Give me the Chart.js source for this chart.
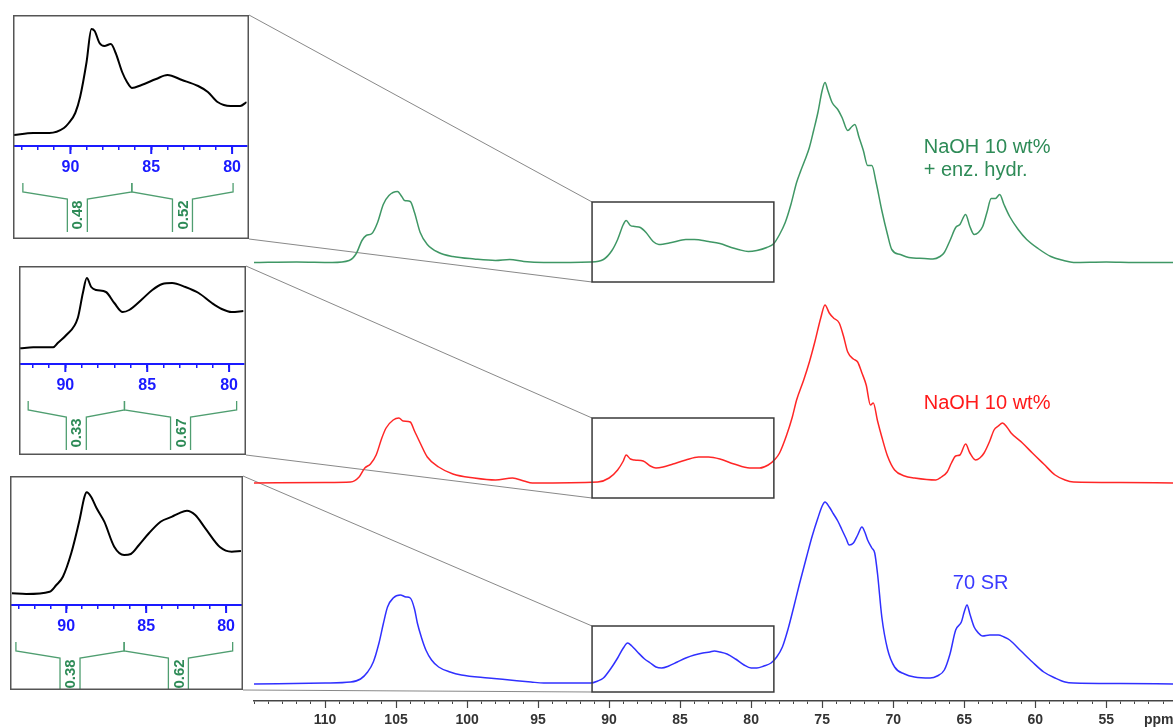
<!DOCTYPE html>
<html>
<head>
<meta charset="utf-8">
<title>13C CP/MAS spectra</title>
<script src="https://cdn.jsdelivr.net/npm/chart.js@4"></script>
<style>
  body { margin: 0; background: #fff; }
  #wrap { position: relative; width: 1173px; height: 727px; overflow: hidden; }
  #wrap canvas { position: absolute; }
</style>
</head>
<body>
<div id="wrap">
  <canvas id="main" width="1173" height="727" style="left:0;top:0"></canvas>
</div>
<script>
// ---- data ----
const seriesNames = [['NaOH 10 wt%', '+ enz. hydr.'], ['NaOH 10 wt%'], ['70 SR']];

// main spectra: chemical shift (ppm) and intensity above each trace's own baseline
const enzPpm = [115, 112, 109.5, 108.3, 107.8, 107.4, 107.1, 106.7, 106.3, 105.9, 105.5, 104.9, 104.6, 104.4, 104.0, 103.7, 103.3, 102.8, 102.0, 101, 99.5, 98, 97.0, 96, 94.6, 91.3, 90.4, 89.8, 89.4, 89.0, 88.8, 88.5, 88.2, 87.8, 87.4, 86.9, 86.5, 85.6, 84.6, 84.0, 83.0, 82.2, 81.4, 80.9, 80.2, 79.6, 78.9, 78.4, 78.0, 77.6, 77.2, 76.8, 76.5, 76.2, 75.9, 75.6, 75.3, 75.0, 74.8, 74.6, 74.3, 73.9, 73.6, 73.2, 72.9, 72.7, 72.4, 72.1, 71.8, 71.5, 71.2, 70.8, 70.4, 70.1, 69.5, 68.9, 67.8, 67.2, 66.7, 66.4, 66.0, 65.6, 65.3, 64.9, 64.6, 64.3, 64.0, 63.7, 63.4, 63.1, 62.8, 62.5, 62.2, 61.8, 61.2, 60.6, 59.8, 58.9, 58.0, 57.3, 55, 53, 50.3];
const enzInt = [0, 0.5, 0, 2, 9, 22, 27, 29, 40, 58, 67, 71, 66, 62, 61, 50, 30, 18, 10, 6, 3.5, 2, 3, 1, 0, 0.5, 3, 12, 23, 38, 42, 37, 36, 35, 30, 21, 18, 20, 23, 23, 21, 19, 15, 13, 11, 12, 15, 19, 28, 40, 58, 80, 92, 103, 115, 132, 150, 172, 180, 172, 160, 153, 145, 132, 136, 138, 125, 112, 97, 97, 80, 52, 28, 13, 8, 5, 4, 3.5, 6, 10, 22, 35, 38, 48, 36, 28, 30, 36, 50, 64, 64, 68, 58, 46, 33, 23, 14, 6, 2, 0, 0.5, 0, 0];

const naohPpm = [115, 110, 108.2, 107.6, 107.2, 106.8, 106.4, 106.0, 105.7, 105.2, 104.8, 104.5, 104.0, 103.7, 103.3, 102.8, 102.0, 101, 99.5, 98, 96.8, 96, 95.4, 90.8, 90.0, 89.4, 89.0, 88.8, 88.5, 88.2, 87.6, 87.1, 86.7, 86.2, 85.5, 84.6, 83.7, 83.0, 82.2, 81.2, 80.1, 79.4, 78.8, 78.3, 78.0, 77.5, 77.1, 76.8, 76.3, 75.9, 75.5, 75.1, 74.8, 74.5, 74.2, 73.8, 73.5, 73.2, 72.8, 72.5, 72.2, 71.9, 71.6, 71.4, 71.1, 70.8, 70.4, 69.9, 69.2, 68.5, 67.0, 66.6, 66.2, 65.9, 65.6, 65.3, 64.9, 64.6, 64.2, 63.9, 63.6, 63.2, 62.9, 62.6, 62.3, 62.0, 61.7, 60.9, 60.2, 59.4, 58.6, 57.9, 57.3, 54, 50.3];
const naohInt = [0, 0.5, 1, 6, 15, 19, 28, 45, 55, 63, 65, 62, 61, 52, 40, 26, 16, 9, 5, 3, 5, 2, 0, 1, 5, 13, 22, 28, 24, 23, 22, 17, 15, 16, 19, 23, 26, 26, 24, 19, 15, 15, 18, 24, 30, 48, 66, 83, 103, 121, 142, 165, 178, 170, 165, 160, 147, 131, 124, 121, 110, 98, 78, 80, 62, 46, 27, 13, 7, 5, 3, 6, 11, 20, 27, 28, 39, 30, 23, 25, 30, 42, 53, 57, 60, 56, 50, 40, 30, 19, 8, 3, 1, 0.5, 0];

const srPpm = [115, 110, 108.2, 107.5, 107.0, 106.6, 106.2, 105.9, 105.6, 105.2, 104.7, 104.3, 104.0, 103.7, 103.5, 103.2, 102.9, 102.5, 102.0, 101.2, 100.4, 98.5, 97.0, 95.5, 94.6, 91.3, 90.8, 90.4, 89.9, 89.4, 89.0, 88.7, 88.4, 88.0, 87.5, 87.1, 86.7, 86.3, 85.8, 85.2, 84.6, 84.0, 83.4, 82.9, 82.6, 82.2, 81.7, 81.1, 80.5, 80.0, 79.6, 79.1, 78.6, 78.2, 77.8, 77.4, 77.0, 76.6, 76.1, 75.7, 75.3, 75.0, 74.8, 74.5, 74.2, 73.9, 73.6, 73.3, 73.1, 72.8, 72.5, 72.2, 72.0, 71.8, 71.5, 71.3, 71.1, 70.8, 70.4, 69.9, 69.2, 68.5, 67.4, 66.9, 66.4, 66.0, 65.6, 65.2, 65.0, 64.8, 64.6, 64.3, 64.0, 63.7, 63.2, 62.6, 62.2, 61.8, 61.0, 60.2, 59.4, 58.6, 57.9, 57.3, 54, 50.3];
const srInt = [0, 1, 2, 5, 12, 22, 41, 60, 77, 86, 89, 87, 86, 75, 61, 46, 34, 24, 17, 12, 9, 6, 4, 2, 1, 1, 3, 6, 15, 26, 36, 41, 38, 32, 25, 21, 17, 16, 18, 22, 26, 29, 31, 32, 33, 32, 30, 25, 19, 16, 16, 18, 21, 27, 37, 55, 77, 100, 127, 148, 166, 178, 182, 177, 170, 163, 154, 145, 139, 141, 149, 157, 152, 144, 136, 131, 110, 67, 35, 17, 10, 7, 6, 8, 14, 30, 54, 62, 72, 79, 70, 57, 51, 48, 49, 49, 47, 44, 33, 22, 12, 6, 2, 1, 0.5, 0];

// expanded 93-79 ppm region shown in the insets
const enzZoomPpm = [93.5, 92.3, 91.3, 90.4, 90.1, 89.7, 89.4, 89.0, 88.7, 88.5, 88.2, 87.9, 87.5, 87.2, 86.8, 86.5, 86.2, 85.6, 84.7, 84.0, 83.1, 82.1, 81.5, 80.9, 80.1, 79.5, 79.1];
const enzZoomInt = [11, 13, 13, 18, 23, 33, 49, 84, 117, 115, 103, 100, 102, 93, 74, 64, 58, 61, 67, 71, 66, 60, 54, 44, 40, 40, 44];
const naohZoomPpm = [92.77, 91.96, 90.75, 90.45, 89.94, 89.24, 88.93, 88.69, 88.42, 88.12, 87.52, 87.01, 86.5, 86.1, 85.3, 84.69, 84.08, 83.48, 82.67, 81.86, 81.05, 80.45, 79.84, 79.13];
const naohZoomInt = [15.7, 16.7, 16.7, 21.3, 29, 46, 71, 86, 77, 74, 72, 61, 52, 54, 65, 74, 80, 81, 77, 71, 61, 55, 52, 53];
const srZoomPpm = [93.4, 92.5, 91.04, 90.62, 90.21, 89.69, 89.17, 88.86, 88.72, 88.45, 88.1, 87.62, 87.0, 86.38, 85.96, 85.45, 84.83, 84.1, 83.38, 82.96, 82.45, 81.93, 81.3, 80.37, 79.65, 79.07];
const srZoomInt = [11.7, 11, 13.3, 20, 28.3, 51.7, 85, 108.3, 112.7, 108.3, 96.7, 83.3, 58.3, 50, 51, 60, 71.7, 83.3, 88.3, 91.7, 94.3, 90, 76.7, 57.7, 53.3, 54];

// integral regions (ppm edges) and relative areas
const enzIntegralEdges = [92.94, 86.2, 79.94];
const enzIntegrals = [0.48, 0.52];
const naohIntegralEdges = [92.27, 86.39, 79.54];
const naohIntegrals = [0.33, 0.67];
const srIntegralEdges = [93.15, 86.38, 79.59];
const srIntegrals = [0.38, 0.62];

// tick labels
const mainTickLabels = [110, 105, 100, 95, 90, 85, 80, 75, 70, 65, 60, 55];
const insetTickLabels = [90, 85, 80];
const unitLabel = 'ppm';

// ---- layout and style ----
const FONT = "'Liberation Sans', Arial, sans-serif";
Chart.defaults.font.family = FONT;
Chart.defaults.animation = false;

const traceColors = ['#3f9765', '#ff2626', '#3030ff'];
const textColors = ['#2e8b57', '#ff1a1a', '#3a3aff'];
const stackOffset = [438.5, 218, 17];          // baseline of each trace, y units
const zoomRange = [91.2, 78.4];                 // ppm range of the boxed region
const zoomBoxes = [[499, 419], [283, 203], [75, 9]];
const labelPos = [[67.85, 548, 23], [67.85, 292, 0], [65.8, 112, 0]]; // ppm, y, line gap
const insetBoxes = [
  { left: 13, top: 15, width: 236, height: 224, axis: 131, from: 93.55, to: 79.1 },
  { left: 19, top: 266, width: 227, height: 189, axis: 98, from: 92.83, to: 79.1 },
  { left: 10, top: 476, width: 233, height: 214, axis: 129, from: 93.52, to: 79.05 }
];

const mainSeries = [[enzPpm, enzInt], [naohPpm, naohInt], [srPpm, srInt]];
const zoomSeries = [[enzZoomPpm, enzZoomInt], [naohZoomPpm, naohZoomInt], [srZoomPpm, srZoomInt]];
const integralEdges = [enzIntegralEdges, naohIntegralEdges, srIntegralEdges];
const integralValues = [enzIntegrals, naohIntegrals, srIntegrals];

function pairs(xs, ys, offset) {
  return xs.map((v, i) => ({ x: v, y: ys[i] + (offset || 0) }));
}

// boxes, connector lines, labels on the main spectrum
const mainDecor = {
  id: 'mainDecor',
  beforeDatasetsDraw(chart) {
    const { ctx, scales: { x, y } } = chart;
    const xl = x.getPixelForValue(zoomRange[0]);
    ctx.save();
    ctx.strokeStyle = '#6a6a6a';
    ctx.lineWidth = 0.8;
    zoomBoxes.forEach((b, i) => {
      const ib = insetBoxes[i];
      ctx.beginPath();
      ctx.moveTo(ib.left + ib.width, ib.top);
      ctx.lineTo(xl, y.getPixelForValue(b[0]));
      ctx.moveTo(ib.left + ib.width, ib.top + ib.height);
      ctx.lineTo(xl, y.getPixelForValue(b[1]));
      ctx.stroke();
    });
    ctx.restore();
  },
  afterDraw(chart) {
    const { ctx, scales: { x, y } } = chart;
    const xl = x.getPixelForValue(zoomRange[0]);
    const xr = x.getPixelForValue(zoomRange[1]);
    ctx.save();
    ctx.strokeStyle = '#3a3a3a';
    ctx.lineWidth = 1.5;
    zoomBoxes.forEach(b => {
      const yt = y.getPixelForValue(b[0]);
      const yb = y.getPixelForValue(b[1]);
      ctx.strokeRect(xl, yt, xr - xl, yb - yt);
    });

    // longer marks at labelled ticks
    ctx.strokeStyle = '#444';
    ctx.lineWidth = 1.2;
    ctx.beginPath();
    mainTickLabels.forEach(v => {
      const px = Math.round(x.getPixelForValue(v)) + 0.5;
      ctx.moveTo(px, x.top);
      ctx.lineTo(px, x.top + 7);
    });
    ctx.stroke();

    ctx.fillStyle = '#333';
    ctx.font = 'bold 14px ' + FONT;
    ctx.textBaseline = 'middle';
    ctx.textAlign = 'left';
    ctx.fillText(unitLabel, 1144, x.top + 19);

    // sample names
    ctx.font = '20px ' + FONT;
    ctx.textBaseline = 'alphabetic';
    seriesNames.forEach((lines, i) => {
      const [ppm, val, gap] = labelPos[i];
      ctx.fillStyle = textColors[i];
      lines.forEach((t, k) => {
        ctx.fillText(t, x.getPixelForValue(ppm), y.getPixelForValue(val) + k * gap);
      });
    });
    ctx.restore();
  }
};

new Chart(document.getElementById('main'), {
  type: 'line',
  data: {
    datasets: mainSeries.map((s, i) => ({
      label: seriesNames[i].join(' '),
      data: pairs(s[0], s[1], stackOffset[i]),
      borderColor: traceColors[i],
      borderWidth: 1.5,
      pointRadius: 0,
      cubicInterpolationMode: 'monotone',
      fill: false
    }))
  },
  options: {
    responsive: false,
    layout: { padding: { left: 254, right: 0, top: 0, bottom: 0 } },
    plugins: { legend: { display: false }, tooltip: { enabled: false } },
    scales: {
      x: {
        type: 'linear', reverse: true, min: 50.3, max: 115,
        afterFit: s => { s.height = 26; },
        border: { display: true, color: '#444', width: 1.5 },
        grid: { drawOnChartArea: false, drawTicks: true, tickLength: 3, color: '#444' },
        ticks: {
          stepSize: 1, includeBounds: false, autoSkip: false, maxRotation: 0, padding: 8,
          color: '#333', font: { size: 14, weight: 'bold' },
          callback: v => mainTickLabels.includes(v) ? String(v) : ''
        }
      },
      y: { display: false, min: 0, max: 701 }
    }
  },
  plugins: [mainDecor]
});

// insets: expanded region with integral brackets
const wrap = document.getElementById('wrap');
insetBoxes.forEach((b, i) => {
  const cv = document.createElement('canvas');
  cv.width = b.width;
  cv.height = b.height;
  cv.style.left = b.left + 'px';
  cv.style.top = b.top + 'px';
  wrap.appendChild(cv);

  const insetDecor = {
    id: 'insetDecor' + i,
    afterDraw(chart) {
      const { ctx, scales: { x } } = chart;
      const ay = x.top;
      ctx.save();
      ctx.strokeStyle = '#1a1aff';
      ctx.lineWidth = 2;
      ctx.beginPath();
      insetTickLabels.forEach(v => {
        const px = x.getPixelForValue(v);
        ctx.moveTo(px, ay);
        ctx.lineTo(px, ay + 8);
      });
      ctx.stroke();

      const edges = integralEdges[i];
      const vals = integralValues[i];
      ctx.strokeStyle = '#4f9e70';
      ctx.lineWidth = 1.3;
      ctx.fillStyle = '#2e8b57';
      ctx.font = 'bold 15px ' + FONT;
      ctx.textAlign = 'center';
      ctx.textBaseline = 'middle';
      vals.forEach((v, k) => {
        const xa = x.getPixelForValue(edges[k]);
        const xb = x.getPixelForValue(edges[k + 1]);
        const xc = x.getPixelForValue((edges[k] + edges[k + 1]) / 2);
        ctx.beginPath();
        ctx.moveTo(xa, ay + 37); ctx.lineTo(xa, ay + 46);
        ctx.lineTo(xc - 10, ay + 53); ctx.lineTo(xc - 10, ay + 86);
        ctx.moveTo(xb, ay + 37); ctx.lineTo(xb, ay + 46);
        ctx.lineTo(xc + 10, ay + 53); ctx.lineTo(xc + 10, ay + 86);
        ctx.stroke();
        ctx.save();
        ctx.translate(xc + 1, ay + 69);
        ctx.rotate(-Math.PI / 2);
        ctx.fillText(v.toFixed(2), 0, 0);
        ctx.restore();
      });

      ctx.strokeStyle = '#555';
      ctx.lineWidth = 1.5;
      ctx.strokeRect(0.75, 0.75, chart.width - 1.5, chart.height - 1.5);
      ctx.restore();
    }
  };

  new Chart(cv, {
    type: 'line',
    data: {
      datasets: [{
        data: pairs(zoomSeries[i][0], zoomSeries[i][1]),
        borderColor: '#000',
        borderWidth: 2,
        pointRadius: 0,
        cubicInterpolationMode: 'monotone',
        fill: false
      }]
    },
    options: {
      responsive: false,
      layout: { padding: 0 },
      plugins: { legend: { display: false }, tooltip: { enabled: false } },
      scales: {
        x: {
          type: 'linear', reverse: true, min: b.to, max: b.from,
          afterFit: s => { s.height = b.height - b.axis; },
          border: { display: true, color: '#1a1aff', width: 2 },
          grid: { drawOnChartArea: false, drawTicks: true, tickLength: 4, color: '#1a1aff', lineWidth: 1.5 },
          ticks: {
            stepSize: 1, includeBounds: false, autoSkip: false, maxRotation: 0, padding: 8,
            color: '#1a1aff', font: { size: 16, weight: 'bold' },
            callback: v => insetTickLabels.includes(v) ? String(v) : ''
          }
        },
        y: { display: false, min: 0, max: b.axis }
      }
    },
    plugins: [insetDecor]
  });
});
</script>
</body>
</html>
